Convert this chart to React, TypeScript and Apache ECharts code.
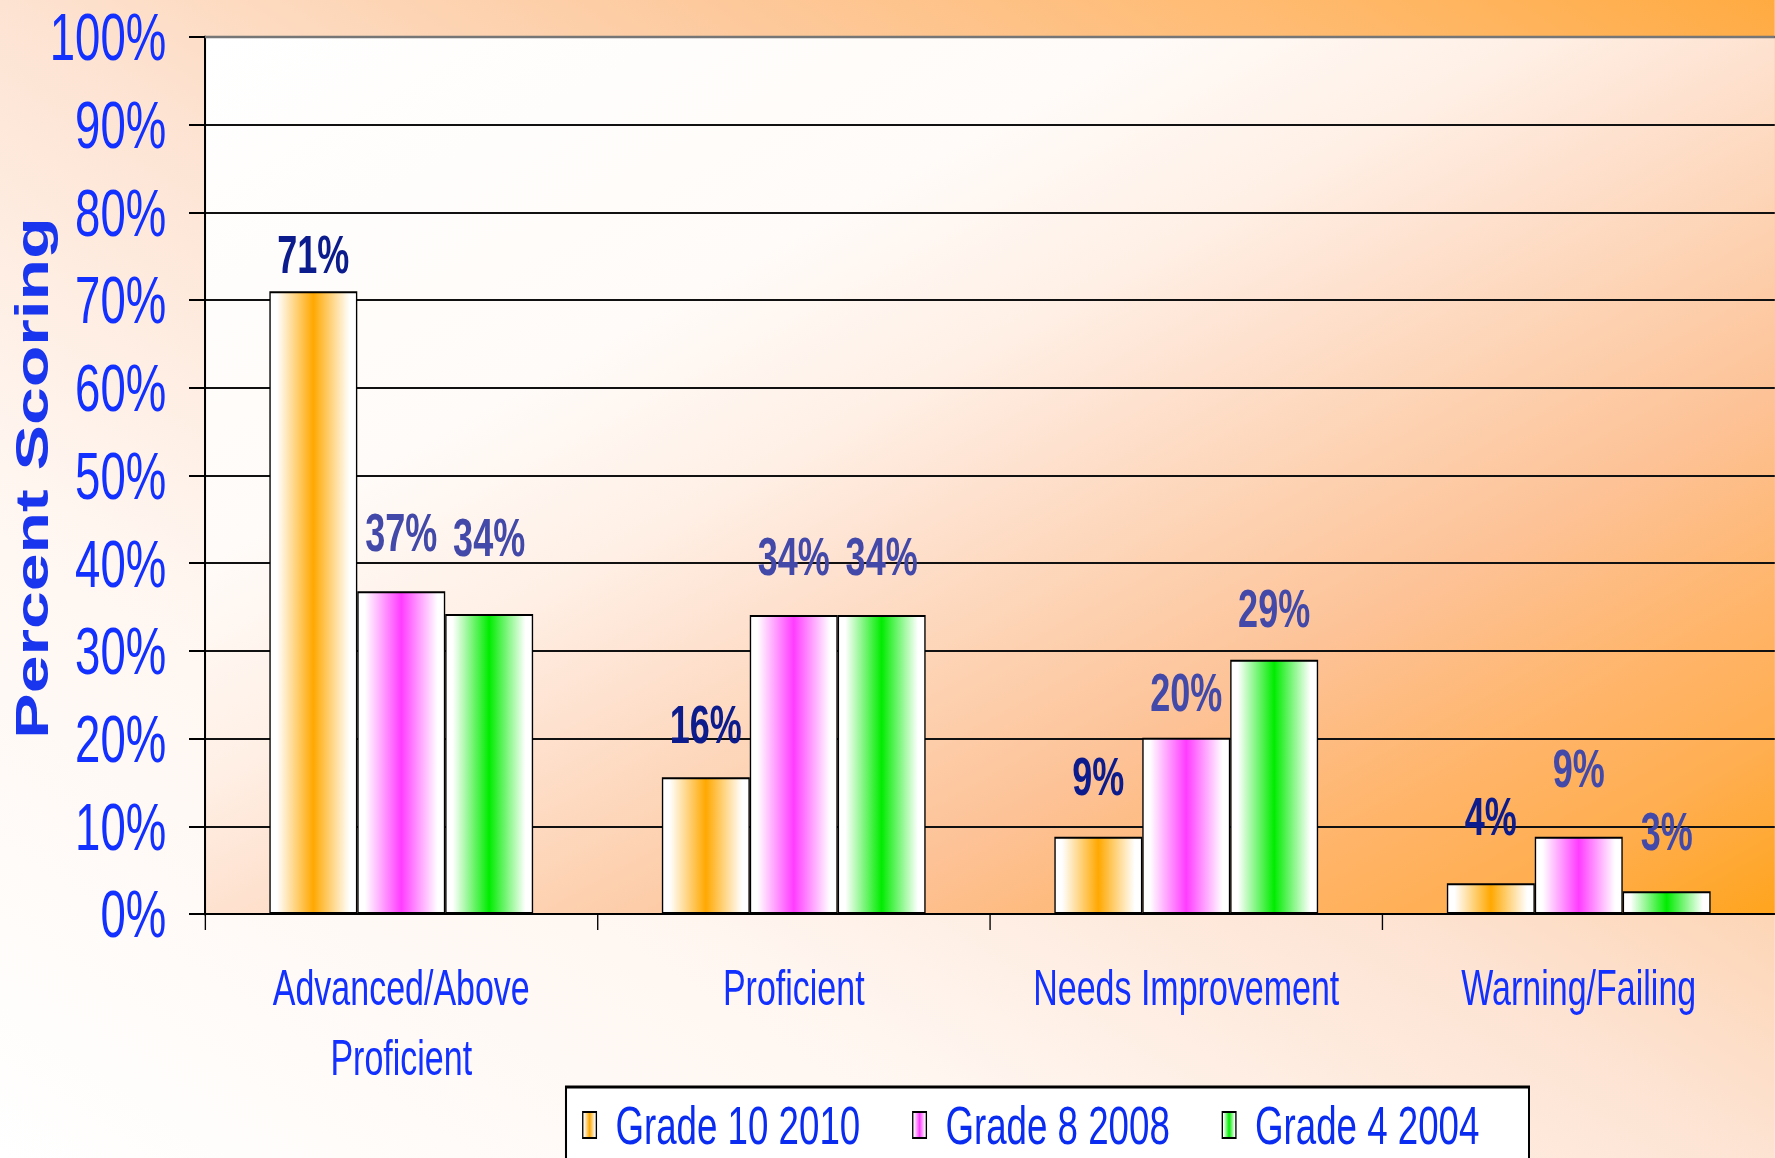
import React, { useEffect, useRef } from "react";
import * as echarts from "echarts";

// ---------- data ----------
const categories = ["Advanced/Above\nProficient", "Proficient", "Needs Improvement", "Warning/Failing"];
const seriesNames = ["Grade 10 2010", "Grade 8 2008", "Grade 4 2004"];
const grade10 = [71.0, 15.6, 8.8, 3.5];
const grade8 = [36.8, 34.1, 20.1, 8.8];
const grade4 = [34.2, 34.1, 29.0, 2.6];
const yMin = 0;
const yMax = 100;
const yStep = 10;

// ---------- layout / style ----------
const SX = 0.68; // the original picture is horizontally condensed
const PAGE_W = 1775;
const PAGE_H = 1158;
const W = PAGE_W / SX;
const GL = 205 / SX;
const GT = 37;
const GW = 1580 / SX;
const GH = 877;
const FONT = "'Liberation Sans', Arial, sans-serif";
const BLUE = "#1230ff";
const barColors = ["#ffa800", "#ff3cff", "#00ec00"];
const labelColors = ["#0c1c8c", "#4249a8", "#4249a8"];
const labelGaps = [
  [10, 26, 33, 40],
  [32, 32, 18, 41],
  [50, 32, 24, 33],
];

function globalLinear(p0: [number, number], grad: [number, number], stops: [number, string][]) {
  const n2 = grad[0] * grad[0] + grad[1] * grad[1];
  return {
    type: "linear",
    x: p0[0],
    y: p0[1],
    x2: p0[0] + grad[0] / n2,
    y2: p0[1] + grad[1] / n2,
    global: true,
    colorStops: stops.map(([offset, color]) => ({ offset, color })),
  };
}

function barGradient(color: string) {
  return new echarts.graphic.LinearGradient(0, 0, 1, 0, [
    { offset: 0, color: "#ffffff" },
    { offset: 0.08, color: "#ffffff" },
    { offset: 0.5, color },
    { offset: 0.92, color: "#ffffff" },
    { offset: 1, color: "#ffffff" },
  ]);
}

const outerFill = globalLinear([0, PAGE_H], [1 / (2 * W), -1 / (2 * PAGE_H)], [
  [0, "#ffffff"],
  [0.3, "#fff6f0"],
  [0.5, "#fde3d2"],
  [0.7, "#fdc99c"],
  [0.85, "#ffbb72"],
  [1, "#ffab42"],
]);

const plotFill = globalLinear([GL, GT], [1 / (2 * GW), 1 / (2 * GH)], [
  [0, "#ffffff"],
  [0.3, "#fffbf8"],
  [0.42, "#fff0e6"],
  [0.5, "#fee2d0"],
  [0.6, "#fdd2b2"],
  [0.7, "#fdc296"],
  [0.82, "#ffb468"],
  [0.9, "#ffae50"],
  [1, "#ffa41c"],
]);

const allSeries = [grade10, grade8, grade4];

const option = {
  animation: false,
  textStyle: { fontFamily: FONT },
  graphic: [
    { type: "rect", z: -20, silent: true, shape: { x: 0, y: 0, width: W, height: PAGE_H }, style: { fill: outerFill } },
    { type: "rect", z: -10, silent: true, shape: { x: GL, y: GT, width: GW, height: GH }, style: { fill: plotFill } },
    { type: "line", z: 5, silent: true, shape: { x1: GL, y1: GT, x2: GL + GW, y2: GT }, style: { stroke: "#767676", lineWidth: 2.5 } },
    {
      type: "rect",
      z: 1,
      silent: true,
      shape: { x: 566 / SX, y: 1087, width: (1529 - 566) / SX, height: 120 },
      style: { fill: "#ffffff", stroke: "#000000", lineWidth: 3 },
    },
    {
      type: "text",
      z: 5,
      x: 47,
      y: 478,
      rotation: Math.PI / 2,
      style: {
        text: "Percent Scoring",
        fontFamily: FONT,
        fontWeight: "bold",
        fontSize: 68,
        fill: "#1a35ee",
        align: "center",
        verticalAlign: "middle",
      },
    },
  ],
  grid: { left: GL, top: GT, width: GW, height: GH, containLabel: false },
  legend: {
    data: seriesNames,
    selectedMode: false,
    orient: "horizontal",
    left: 856,
    top: 1098,
    padding: 0,
    itemGap: 76,
    itemWidth: 20,
    itemHeight: 26,
    icon: "rect",
    itemStyle: { borderColor: "#000000", borderWidth: 2 },
    textStyle: { fontFamily: FONT, fontSize: 54, lineHeight: 48, color: "#0a2cf0", padding: [0, 0, 0, 23] },
  },
  xAxis: {
    type: "category",
    data: categories,
    axisLine: { show: true, lineStyle: { color: "#000000", width: 2 } },
    axisTick: { show: true, length: 16, lineStyle: { color: "#000000", width: 2 } },
    axisLabel: { interval: 0, margin: 38, fontSize: 50, lineHeight: 70, color: BLUE, fontFamily: FONT },
    splitLine: { show: false },
  },
  yAxis: {
    type: "value",
    min: yMin,
    max: yMax,
    interval: yStep,
    axisLine: { show: true, lineStyle: { color: "#000000", width: 3 } },
    axisTick: { show: true, length: 16 / SX, lineStyle: { color: "#000000", width: 2 } },
    axisLabel: { formatter: "{value}%", margin: 57, fontSize: 67, color: BLUE, fontFamily: FONT },
    splitLine: { show: true, lineStyle: { color: "#111111", width: 2 } },
  },
  series: allSeries.map((vals, si) => ({
    type: "bar",
    name: seriesNames[si],
    barWidth: "22.4%",
    barGap: "0%",
    itemStyle: { color: barGradient(barColors[si]), borderColor: "#000000", borderWidth: 2 },
    label: {
      show: true,
      position: "top",
      formatter: (p: any) => Math.round(p.value) + "%",
      fontFamily: FONT,
      fontWeight: "bold",
      fontSize: 53,
      lineHeight: 53,
      color: labelColors[si],
    },
    data: vals.map((v, i) => ({ value: v, label: { distance: labelGaps[si][i] } })),
  })),
};

export default function App() {
  const ref = useRef<HTMLDivElement>(null);
  useEffect(() => {
    if (!ref.current) return;
    const chart = echarts.init(ref.current, null, { renderer: "svg", width: W, height: PAGE_H });
    chart.setOption(option as any);
    return () => chart.dispose();
  }, []);
  return (
    <div
      ref={ref}
      style={{
        position: "fixed",
        left: 0,
        top: 0,
        width: W + "px",
        height: PAGE_H + "px",
        transform: `scaleX(${SX})`,
        transformOrigin: "0 0",
      }}
    />
  );
}
